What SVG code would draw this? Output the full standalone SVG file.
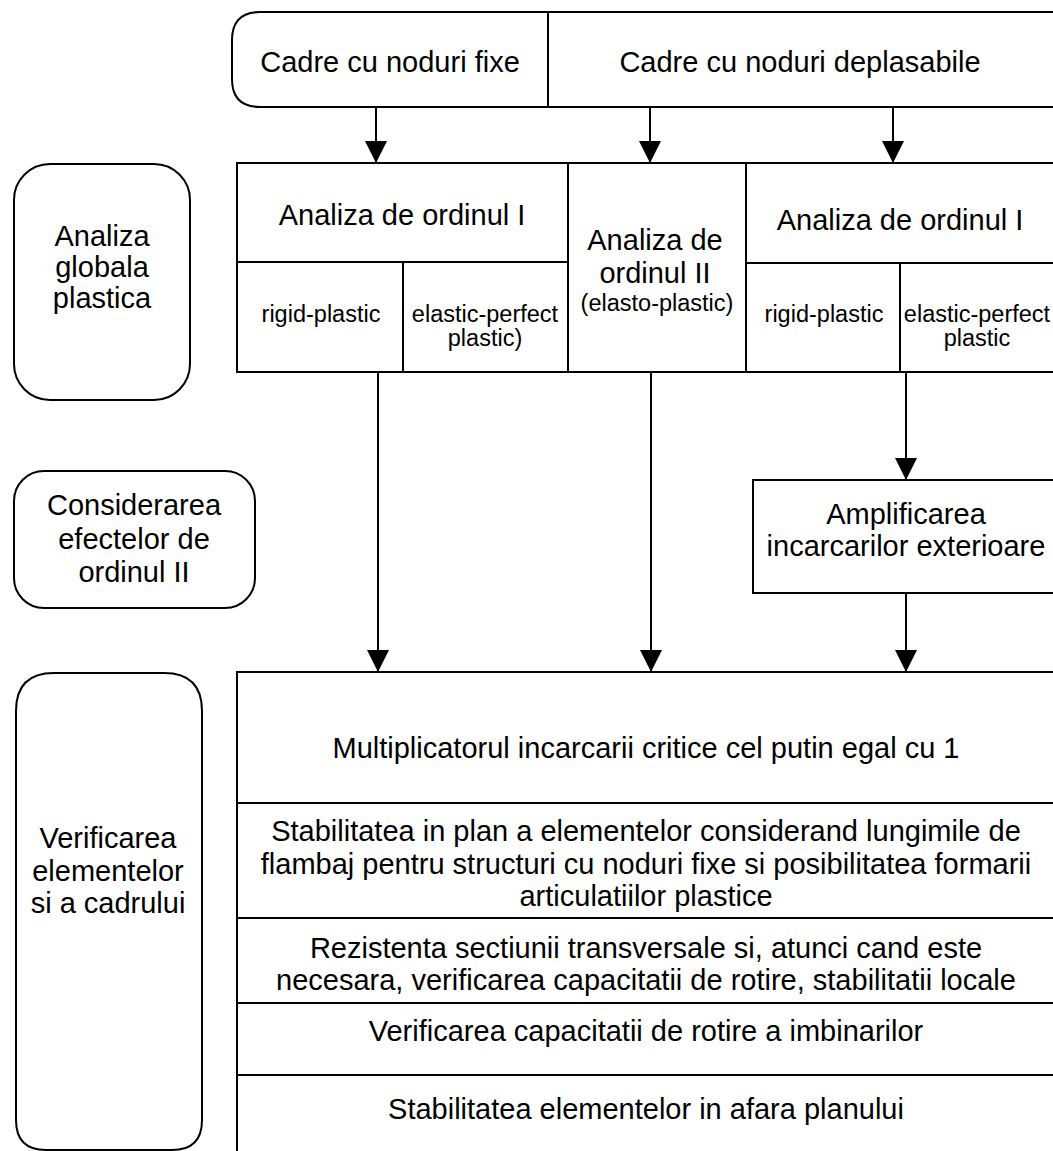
<svg xmlns="http://www.w3.org/2000/svg" width="1053" height="1151" viewBox="0 0 1053 1151">
  <style>
    .box { fill: #fff; stroke: #000; stroke-width: 2; }
    .ln { fill: none; stroke: #000; stroke-width: 2; }
    .t { font-family: "Liberation Sans", Arial, sans-serif; font-size: 29px; fill: #000; text-anchor: middle; }
    .s { font-family: "Liberation Sans", Arial, sans-serif; font-size: 23.5px; fill: #000; text-anchor: middle; }
    .wire { stroke: #000; stroke-width: 2; fill: none; marker-end: url(#arrow); }
  </style>
  <defs>
    <marker id="arrow" markerWidth="22" markerHeight="22" refX="22" refY="11" orient="auto" markerUnits="userSpaceOnUse" viewBox="0 0 22 22">
      <path d="M0,0 L22,11 L0,22 Z" fill="#000"/>
    </marker>
  </defs>
  <rect width="1053" height="1151" fill="#fff"/>

  <!-- frame types -->
  <g id="frame-types">
    <path class="box" d="M260,12 H1062 V107 H260 Q232,107 232,79 V40 Q232,12 260,12 Z"/>
    <line class="ln" x1="548" y1="12" x2="548" y2="107"/>
    <text class="t" x="390" y="72">Cadre cu noduri fixe</text>
    <text class="t" x="800" y="72">Cadre cu noduri deplasabile</text>
  </g>

  <!-- global plastic analysis label -->
  <g id="label-global">
    <rect class="box" x="14" y="164" width="176" height="236" rx="36" ry="36"/>
    <text class="t" x="102" y="246">Analiza</text>
    <text class="t" x="102" y="277">globala</text>
    <text class="t" x="102" y="308">plastica</text>
  </g>

  <!-- analysis methods -->
  <g id="analysis">
    <rect class="box" x="237" y="163" width="825" height="209"/>
    <line class="ln" x1="568" y1="163" x2="568" y2="372"/>
    <line class="ln" x1="746" y1="163" x2="746" y2="372"/>
    <line class="ln" x1="237" y1="262" x2="568" y2="262"/>
    <line class="ln" x1="746" y1="263" x2="1062" y2="263"/>
    <line class="ln" x1="403" y1="262" x2="403" y2="372"/>
    <line class="ln" x1="900" y1="263" x2="900" y2="372"/>
    <text class="t" x="402" y="225">Analiza de ordinul I</text>
    <text class="t" x="900" y="230">Analiza de ordinul I</text>
    <text class="t" x="655" y="250">Analiza de</text>
    <text class="t" x="655" y="283">ordinul II</text>
    <text class="s" x="657" y="311">(elasto-plastic)</text>
    <text class="s" x="321" y="322">rigid-plastic</text>
    <text class="s" x="485" y="322">elastic-perfect</text>
    <text class="s" x="485" y="346">plastic)</text>
    <text class="s" x="824" y="322">rigid-plastic</text>
    <text class="s" x="977" y="322">elastic-perfect</text>
    <text class="s" x="977" y="346">plastic</text>
  </g>

  <!-- second order effects label -->
  <g id="label-second-order">
    <rect class="box" x="14" y="471" width="241" height="137" rx="30" ry="30"/>
    <text class="t" x="134" y="515">Considerarea</text>
    <text class="t" x="134" y="549">efectelor de</text>
    <text class="t" x="134" y="582">ordinul II</text>
  </g>

  <!-- load amplification -->
  <g id="amplification">
    <rect class="box" x="753" y="480" width="309" height="113"/>
    <text class="t" x="906" y="524">Amplificarea</text>
    <text class="t" x="906" y="556">incarcarilor exterioare</text>
  </g>

  <!-- checks label -->
  <g id="label-checks">
    <path class="box" d="M16,1120 V711 Q16,673 54,673 H164 Q202,673 202,711 V1120 Q202,1150 172,1150 H46 Q16,1150 16,1120 Z"/>
    <text class="t" x="108" y="848">Verificarea</text>
    <text class="t" x="108" y="881">elementelor</text>
    <text class="t" x="108" y="913">si a cadrului</text>
  </g>

  <!-- checks -->
  <g id="checks">
    <rect class="box" x="237" y="672" width="825" height="490"/>
    <line class="ln" x1="237" y1="803" x2="1062" y2="803"/>
    <line class="ln" x1="237" y1="918" x2="1062" y2="918"/>
    <line class="ln" x1="237" y1="1003" x2="1062" y2="1003"/>
    <line class="ln" x1="237" y1="1075" x2="1062" y2="1075"/>
    <text class="t" x="646" y="758">Multiplicatorul incarcarii critice cel putin egal cu 1</text>
    <text class="t" x="646" y="841">Stabilitatea in plan a elementelor considerand lungimile de</text>
    <text class="t" x="646" y="874">flambaj pentru structuri cu noduri fixe si posibilitatea formarii</text>
    <text class="t" x="646" y="906">articulatiilor plastice</text>
    <text class="t" x="646" y="958">Rezistenta sectiunii transversale si, atunci cand este</text>
    <text class="t" x="646" y="990">necesara, verificarea capacitatii de rotire, stabilitatii locale</text>
    <text class="t" x="646" y="1041">Verificarea capacitatii de rotire a imbinarilor</text>
    <text class="t" x="646" y="1119">Stabilitatea elementelor in afara planului</text>
  </g>

  <!-- connectors -->
  <g id="connectors">
    <line class="wire" x1="376" y1="107" x2="376" y2="163"/>
    <line class="wire" x1="650" y1="107" x2="650" y2="163"/>
    <line class="wire" x1="893" y1="107" x2="893" y2="163"/>
    <line class="wire" x1="378" y1="372" x2="378" y2="672"/>
    <line class="wire" x1="651" y1="372" x2="651" y2="672"/>
    <line class="wire" x1="906" y1="372" x2="906" y2="480"/>
    <line class="wire" x1="906" y1="593" x2="906" y2="672"/>
  </g>
</svg>
